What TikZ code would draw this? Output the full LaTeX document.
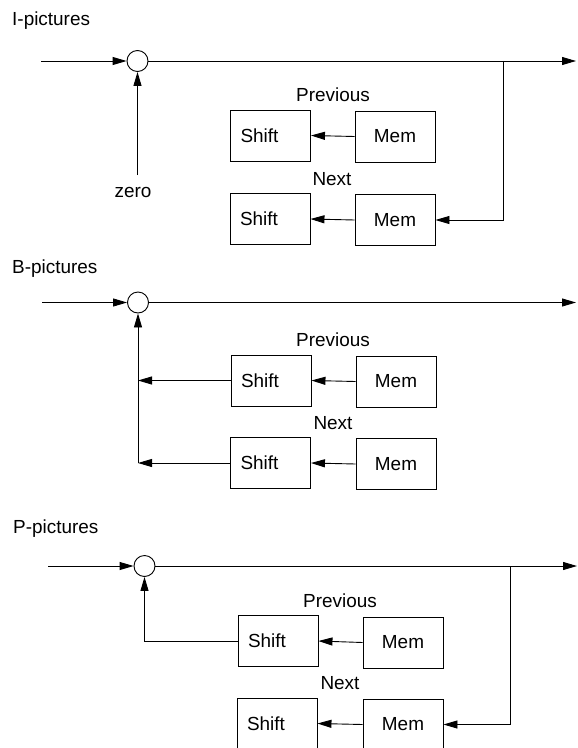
\documentclass[tikz,border=0pt]{standalone}
\usepackage{fontspec}
\setmainfont{Liberation Sans}
\usetikzlibrary{arrows.meta,calc}
\begin{document}
\begin{tikzpicture}[x=1bp,y=-1bp,
  every node/.style={font=\fontsize{19}{21}\selectfont},
  ln/.style={line width=0.9bp},
  arr/.style={ln,-{Triangle[length=14bp,width=8bp]}},
  sum/.style={draw,ln,circle,minimum size=21bp,inner sep=0pt},
  membox/.style={draw,ln,minimum width=80bp,minimum height=51bp,inner sep=0pt},
  shiftbox/.style={draw,ln,text width=60bp,inner xsep=10bp,minimum height=51bp,align=left},
  lbl/.style={inner sep=0pt}]
\useasboundingbox (0,0) rectangle (578,748);
\clip (0,0) rectangle (578,748);

% ---------- I-pictures ----------
\node[lbl,anchor=west] (It) at (12,20.5) {I-pictures};
\node[sum] (Ic) at (137.5,61) {};
\coordinate (Iin) at (41,61);
\coordinate (Iout) at (576,61);
\coordinate (Ib) at (503,61);
\coordinate (Iz) at (137.5,175);
\node[lbl] (Izero) at (133,192) {zero};
\node[shiftbox] (Is1) at (270.5,135.5) {Shift};
\node[membox] (Im1) at (395,136.5) {Mem};
\node[shiftbox] (Is2) at (270,219) {Shift};
\node[membox] (Im2) at (395,220) {Mem};
\node[lbl] (Ip) at (333,95) {Previous};
\node[lbl] (In) at (332,179) {Next};
\draw[arr] (Iin) -- (Ic.west);
\draw[arr] (Ic.east) -- (Iout);
\draw[arr] (Iz) -- (Ic.south);
\draw[arr] (Ib) -- (Ib |- Im2.east) -- (Im2.east);
\draw[arr] (Im1.west) -- (Is1.east);
\draw[arr] (Im2.west) -- (Is2.east);

% ---------- B-pictures ----------
\node[lbl,anchor=west] (Bt) at (12,268.5) {B-pictures};
\node[sum] (Bc) at (138,302.5) {};
\coordinate (Bin) at (42,302.5);
\coordinate (Bout) at (576,302.5);
\node[shiftbox] (Bs1) at (271,380.5) {Shift};
\node[membox] (Bm1) at (396,381.5) {Mem};
\node[shiftbox] (Bs2) at (270.5,463) {Shift};
\node[membox] (Bm2) at (396,464) {Mem};
\node[lbl] (Bp) at (333,340) {Previous};
\node[lbl] (Bn) at (333,423) {Next};
\draw[arr] (Bin) -- (Bc.west);
\draw[arr] (Bc.east) -- (Bout);
\draw[arr] (Bm1.west) -- (Bs1.east);
\draw[arr] (Bm2.west) -- (Bs2.east);
\draw[arr] (Bs1.west) -- (Bs1.west -| Bc);
\draw[arr] (Bs2.west) -- (Bs2.west -| Bc);
\draw[arr] (Bs2.west -| Bc) -- (Bc.south);

% ---------- P-pictures ----------
\node[lbl,anchor=west] (Pt) at (13,529) {P-pictures};
\node[sum] (Pc) at (144.5,566) {};
\coordinate (Pin) at (48,566);
\coordinate (Pout) at (577,566);
\coordinate (Pb) at (510,566);
\node[shiftbox] (Ps1) at (278,641) {Shift};
\node[membox] (Pm1) at (403,642.5) {Mem};
\node[shiftbox] (Ps2) at (277,723.5) {Shift};
\node[membox] (Pm2) at (403,724.5) {Mem};
\node[lbl] (Pp) at (340,601) {Previous};
\node[lbl] (Pn) at (340,683) {Next};
\draw[arr] (Pin) -- (Pc.west);
\draw[arr] (Pc.east) -- (Pout);
\draw[arr] (Pb) -- (Pb |- Pm2.east) -- (Pm2.east);
\draw[arr] (Pm1.west) -- (Ps1.east);
\draw[arr] (Pm2.west) -- (Ps2.east);
\draw[arr] (Ps1.west) -- (Ps1.west -| Pc) -- (Pc.south);
\end{tikzpicture}
\end{document}
